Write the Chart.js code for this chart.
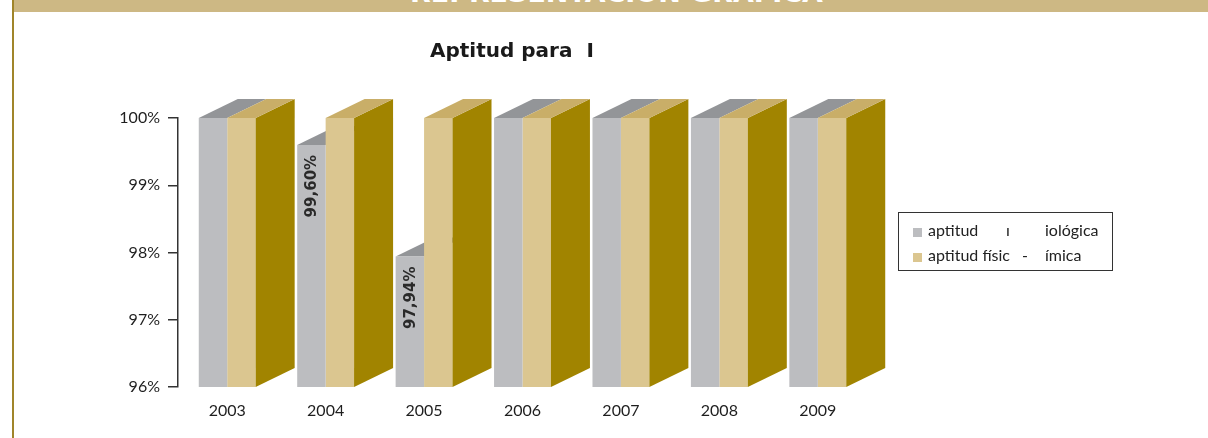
<!DOCTYPE html>
<html>
<head>
<meta charset="utf-8">
<script src="https://cdn.jsdelivr.net/npm/chart.js@4.4.0/dist/chart.umd.min.js"></script>
<style>
  html, body { margin: 0; padding: 0; background: #fff; }
  #wrap { position: relative; width: 1208px; height: 438px; overflow: hidden; }
  #chart { position: absolute; left: 0; top: 0; }
  #band { position: absolute; left: 12px; top: 0; width: 1196px; height: 12px; background: #cdb884; overflow: hidden; }
  #bandText { position: absolute; left: 398px; top: -18px; color: #fff; font: bold 24px 'DejaVu Sans'; line-height: 24px; white-space: nowrap; transform-origin: 0 0; }
  #edge { position: absolute; left: 12px; top: 0; width: 2px; height: 438px; background: #a0852a; }
  #title { position: absolute; left: 430px; top: 40px; font: bold 20px 'DejaVu Sans'; line-height: 20px; color: #1a1a1a; white-space: pre; }
  #legend { position: absolute; left: 898px; top: 212px; width: 215px; height: 59px; border: 1px solid #333; box-sizing: border-box; font: 16px Lato; line-height: 16px; color: #222; }
  #legend .sw { position: absolute; width: 9px; height: 9px; }
  #legend .tx { position: absolute; white-space: pre; }
</style>
</head>
<body>
<div id="wrap">
  <canvas id="chart" width="1208" height="438"></canvas>
  <div id="band"><span id="bandText">REPRESENTACIÓN GRÁFICA</span></div>
  <div id="edge"></div>
  <div id="title">Aptitud para  I</div>
  <div id="legend"></div>
</div>
<script>
// data
const years = ['2003', '2004', '2005', '2006', '2007', '2008', '2009'];
const aptitudBio = [100, 99.60, 97.94, 100, 100, 100, 100];
const aptitudFQ = [100, 100, 100, 100, 100, 100, 100];
const yTicks = [96, 97, 98, 99, 100];
const seriesLabels = ['aptitud  ı  iológica', 'aptitud físic  -  ímica'];

// colours: front face, top face, and the side of the back bar
const frontColors = ['#bcbdc0', '#dbc690'];
const topColors = ['#939598', '#c9ae68'];
const sideColor = '#a18400';

// fake 3D depth of the boxes
const depthX = 39;
const depthY = -19;

function face(ctx, pts, color) {
    ctx.beginPath();
    ctx.moveTo(pts[0][0], pts[0][1]);
    for (let i = 1; i < pts.length; i++) ctx.lineTo(pts[i][0], pts[i][1]);
    ctx.closePath();
    ctx.fillStyle = color;
    ctx.fill();
}

const bars3d = {
    id: 'bars3d',
    beforeDatasetsDraw(chart) {
        // top of the grey boxes goes first, the tan fronts hide part of it
        const ctx = chart.ctx;
        ctx.save();
        chart.getDatasetMeta(0).data.forEach(bar => {
            const p = bar.getProps(['x', 'y', 'width'], true);
            const x0 = p.x - p.width / 2, x1 = p.x + p.width / 2;
            face(ctx, [[x0, p.y], [x1, p.y], [x1 + depthX, p.y + depthY], [x0 + depthX, p.y + depthY]], topColors[0]);
        });
        ctx.restore();
    },
    afterDatasetsDraw(chart) {
        const ctx = chart.ctx;
        const bottom = chart.scales.y.bottom;
        ctx.save();
        chart.getDatasetMeta(1).data.forEach(bar => {
            const p = bar.getProps(['x', 'y', 'width'], true);
            const x0 = p.x - p.width / 2, x1 = p.x + p.width / 2;
            face(ctx, [[x1, p.y], [x1 + depthX, p.y + depthY], [x1 + depthX, bottom + depthY], [x1, bottom]], sideColor);
            face(ctx, [[x0, p.y], [x1, p.y], [x1 + depthX, p.y + depthY], [x0 + depthX, p.y + depthY]], topColors[1]);
        });

        // rotated value labels on the grey boxes that are below 100%
        ctx.font = 'bold 15px "DejaVu Sans"';
        ctx.fillStyle = '#2a2a2a';
        ctx.textAlign = 'right';
        ctx.textBaseline = 'middle';
        chart.getDatasetMeta(0).data.forEach((bar, i) => {
            const v = aptitudBio[i];
            if (v >= 100) return;
            const p = bar.getProps(['x', 'y'], true);
            ctx.save();
            ctx.translate(p.x + 1, p.y + 10);
            ctx.rotate(-Math.PI / 2);
            ctx.fillText(v.toFixed(2).replace('.', ',') + '%', 0, 0);
            ctx.restore();
        });
        ctx.restore();
    }
};

window.aptitudChart = new Chart(document.getElementById('chart'), {
    type: 'bar',
    data: {
        labels: years,
        datasets: [{
            label: seriesLabels[0],
            data: aptitudBio,
            backgroundColor: frontColors[0],
            borderWidth: 0,
            categoryPercentage: 0.578,
            barPercentage: 1
        }, {
            label: seriesLabels[1],
            data: aptitudFQ,
            backgroundColor: frontColors[1],
            borderWidth: 0,
            categoryPercentage: 0.578,
            barPercentage: 1
        }]
    },
    options: {
        responsive: false,
        animation: false,
        devicePixelRatio: 1,
        layout: {
            padding: { left: 0, top: 118, right: 341, bottom: 0 }
        },
        plugins: {
            legend: { display: false },
            tooltip: { enabled: false },
            title: { display: false }
        },
        scales: {
            y: {
                min: 96,
                max: 100,
                afterFit(scale) { scale.width = 178; },
                afterBuildTicks(scale) { scale.ticks = yTicks.map(v => ({ value: v })); },
                border: { display: true, color: '#333', width: 1.5 },
                grid: { drawOnChartArea: false, drawTicks: true, tickLength: 10, color: '#333', lineWidth: 1.5 },
                ticks: {
                    padding: 8,
                    color: '#1e1e1e',
                    font: { family: 'Lato', size: 16 },
                    callback: v => v + '%'
                }
            },
            x: {
                afterFit(scale) { scale.height = 51; },
                border: { display: false },
                grid: { display: false, drawTicks: false },
                ticks: {
                    padding: 14,
                    color: '#1e1e1e',
                    font: { family: 'Lato', size: 16 }
                }
            }
        }
    },
    plugins: [bars3d]
});

// legend box, built from the series labels
const legendPieceX = [[0, 78, 117], [0, 94, 117]];
const legendEl = document.getElementById('legend');
seriesLabels.forEach((label, i) => {
    const sw = document.createElement('div');
    sw.className = 'sw';
    sw.style.left = '14px';
    sw.style.top = (15 + i * 25) + 'px';
    sw.style.background = frontColors[i];
    legendEl.appendChild(sw);
    label.split(/\s{2,}/).forEach((piece, j) => {
        const tx = document.createElement('div');
        tx.className = 'tx';
        tx.style.left = (29 + legendPieceX[i][j]) + 'px';
        tx.style.top = (9 + i * 25) + 'px';
        tx.textContent = piece;
        legendEl.appendChild(tx);
    });
});

// squeeze the header text to the width seen in the picture
const bandText = document.getElementById('bandText');
bandText.style.transform = 'scaleX(' + (413 / bandText.offsetWidth) + ')';
</script>
</body>
</html>
